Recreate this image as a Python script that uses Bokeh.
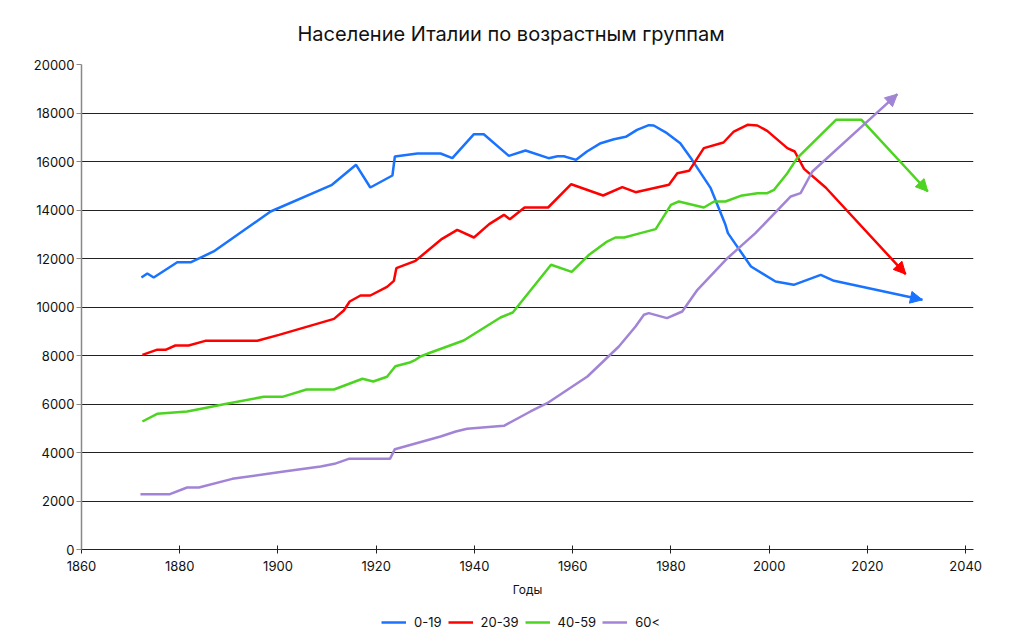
from bokeh.plotting import figure
from bokeh.layouts import column
from bokeh.models import Range1d, FixedTicker, Legend, LegendItem, Arrow, NormalHead
from bokeh.embed import file_html
from bokeh.resources import INLINE

# ---- data ----
years_0_19 = [1872.2, 1873.4, 1874.7, 1879.5, 1882.3, 1886.9, 1898.5, 1911.0, 1915.9, 1918.8,
              1923.3, 1923.8, 1928.4, 1933.1, 1935.5, 1939.9, 1941.9, 1947.0, 1950.4, 1955.1,
              1956.9, 1958.2, 1960.7, 1962.9, 1965.7, 1968.4, 1970.8, 1973.1, 1975.5, 1976.5,
              1979.2, 1981.9, 1984.3, 1988.1, 1991.1, 1991.6, 1996.3, 2001.3, 2005.0, 2010.5,
              2013.2, 2031.2]
pop_0_19 = [11216, 11381, 11216, 11848, 11848, 12289, 13938, 15038, 15863, 14928,
            15423, 16206, 16330, 16330, 16137, 17126, 17126, 16234, 16454, 16137,
            16219, 16219, 16069, 16412, 16755, 16920, 17018, 17306, 17498, 17485,
            17169, 16755, 16069, 14900, 13389, 13045, 11670, 11052, 10914, 11327,
            11079, 10296]

years_20_39 = [1872.4, 1875.3, 1877.1, 1879.1, 1881.8, 1885.2, 1895.8, 1900.2, 1911.4, 1913.4,
               1914.6, 1916.8, 1918.8, 1922.2, 1923.6, 1924.1, 1928.0, 1933.4, 1936.5, 1939.9,
               1943.0, 1946.0, 1947.2, 1950.2, 1955.0, 1959.7, 1966.2, 1970.1, 1972.8, 1979.6,
               1981.3, 1983.7, 1986.7, 1990.7, 1992.8, 1995.6, 1997.6, 1999.6, 2003.7, 2005.2,
               2007.1, 2011.5, 2027.8]
pop_20_39 = [8027, 8234, 8234, 8412, 8412, 8605, 8605, 8852, 9512, 9856,
             10227, 10474, 10474, 10831, 11079, 11600, 11905, 12812, 13183, 12866,
             13416, 13801, 13622, 14103, 14103, 15064, 14598, 14942, 14735, 15038,
             15519, 15615, 16550, 16783, 17237, 17513, 17485, 17265, 16550, 16412,
             15697, 14928, 11354]

years_40_59 = [1872.4, 1875.4, 1881.5, 1884.9, 1889.0, 1897.1, 1900.9, 1905.8, 1911.4, 1917.2,
               1919.4, 1922.2, 1923.9, 1927.0, 1928.0, 1929.0, 1931.1, 1937.8, 1945.3, 1947.8,
               1955.6, 1959.8, 1963.2, 1966.8, 1968.7, 1970.5, 1973.8, 1976.9, 1980.0, 1981.6,
               1986.7, 1988.8, 1991.1, 1994.2, 1997.6, 1999.6, 2001.0, 2003.7, 2005.7, 2013.6,
               2018.8, 2032.3]
pop_40_59 = [5278, 5595, 5691, 5828, 5993, 6295, 6295, 6598, 6598, 7040,
             6928, 7122, 7560, 7724, 7822, 7959, 8124, 8618, 9567, 9773,
             11740, 11450, 12130, 12672, 12866, 12866, 13045, 13210, 14213, 14351,
             14103, 14351, 14351, 14584, 14694, 14694, 14832, 15519, 16137, 17719,
             17719, 14763]

years_60 = [1872.0, 1878.0, 1881.5, 1883.9, 1890.7, 1901.2, 1908.7, 1911.5, 1914.4, 1922.8,
            1923.8, 1933.1, 1936.2, 1938.5, 1946.0, 1951.4, 1954.8, 1963.0, 1969.4, 1972.8,
            1974.5, 1975.5, 1979.2, 1982.3, 1985.4, 1991.5, 1997.2, 2004.4, 2006.4, 2008.8,
            2026.1]
pop_60 = [2282, 2282, 2557, 2557, 2914, 3216, 3423, 3533, 3739, 3739,
          4137, 4660, 4866, 4977, 5101, 5691, 6034, 7134, 8371, 9196,
          9678, 9746, 9540, 9814, 10708, 12012, 13045, 14557, 14694, 15588,
          18776]

series_names = ["0-19", "20-39", "40-59", "60<"]
series_colors = ["#1A73FF", "#FF0000", "#4CD420", "#A284D6"]
x_ticks = [1860, 1880, 1900, 1920, 1940, 1960, 1980, 2000, 2020, 2040]
y_ticks = [0, 2000, 4000, 6000, 8000, 10000, 12000, 14000, 16000, 18000, 20000]

title_text = "Население Италии по возрастным группам"
x_label = "Годы"

FONT = "Inter"

p = figure(frame_width=892, frame_height=485,
           x_range=Range1d(1860, 2041.6), y_range=Range1d(0, 20000),
           output_backend="svg", toolbar_location=None,
           min_border_left=81, min_border_top=63, min_border_right=40, min_border_bottom=55)

p.title.text = title_text
p.title.align = "left"
p.title.offset = 216
p.title.text_font = FONT
p.title.text_font_size = "20px"
p.title.text_font_style = "normal"
p.title.text_color = "#111111"
p.title.standoff = 38

p.outline_line_color = None
p.xgrid.grid_line_color = None
p.ygrid.grid_line_color = "#222222"
p.ygrid.grid_line_width = 1
p.ygrid.ticker = FixedTicker(ticks=y_ticks)

p.xaxis.ticker = FixedTicker(ticks=x_ticks)
p.xaxis.axis_line_color = "#222222"
p.xaxis.major_tick_line_color = "#222222"
p.xaxis.major_tick_in = 4
p.xaxis.major_tick_out = 4
p.xaxis.minor_tick_line_color = None
p.xaxis.major_label_text_font = FONT
p.xaxis.major_label_text_font_size = "13px"
p.xaxis.major_label_text_color = "#111111"
p.xaxis.major_label_standoff = 7
p.xaxis.axis_label = x_label
p.xaxis.axis_label_text_font = FONT
p.xaxis.axis_label_text_font_size = "12px"
p.xaxis.axis_label_text_font_style = "normal"
p.xaxis.axis_label_text_color = "#111111"
p.xaxis.axis_label_standoff = 8

p.yaxis.ticker = FixedTicker(ticks=y_ticks)
p.yaxis.axis_line_color = "#888888"
p.yaxis.axis_line_width = 1.5
p.yaxis.major_tick_line_color = "#888888"
p.yaxis.major_tick_in = 0
p.yaxis.major_tick_out = 5
p.yaxis.minor_tick_line_color = None
p.yaxis.major_label_text_font = FONT
p.yaxis.major_label_text_font_size = "13px"
p.yaxis.major_label_text_color = "#111111"
p.yaxis.major_label_standoff = 2

all_x = [years_0_19, years_20_39, years_40_59, years_60]
all_y = [pop_0_19, pop_20_39, pop_40_59, pop_60]

for name, color, xs, ys in zip(series_names, series_colors, all_x, all_y):
    p.line(xs, ys, line_color=color, line_width=2.5)
    p.add_layout(Arrow(end=NormalHead(size=12, fill_color=color, line_color=color),
                       x_start=xs[-2], y_start=ys[-2], x_end=xs[-1], y_end=ys[-1],
                       line_color=color, line_width=2.5, line_alpha=0))

# legend strip below the chart (its proxy lines lie outside its own view)
lg = figure(frame_width=1013, frame_height=38, output_backend="svg", toolbar_location=None,
            x_axis_type=None, y_axis_type=None, min_border=0,
            x_range=Range1d(0, 1), y_range=Range1d(0, 1))
lg.outline_line_color = None
items = []
for name, color, xs, ys in zip(series_names, series_colors, all_x, all_y):
    r = lg.line(xs, ys, line_color=color, line_width=2.5)
    items.append(LegendItem(label=name, renderers=[r]))
legend = Legend(items=items, orientation="horizontal", location=(381, 12),
                border_line_color=None, background_fill_alpha=0,
                label_text_font=FONT, label_text_font_size="13px", label_text_color="#111111",
                glyph_width=25, glyph_height=10, label_height=14, label_standoff=8, spacing=6,
                padding=2, margin=0)
lg.add_layout(legend)

layout = column(p, lg, spacing=0)
open("out.html", "w").write(file_html(layout, INLINE))
